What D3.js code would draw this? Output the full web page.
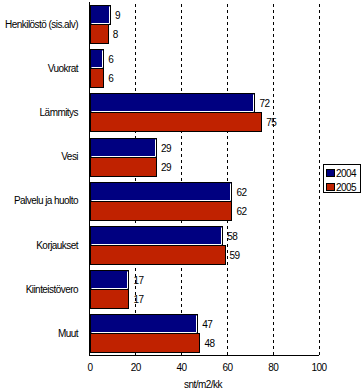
<!DOCTYPE html>
<html><head><meta charset="utf-8">
<script src="https://cdn.jsdelivr.net/npm/d3@7"></script>
<style>
body{margin:0;background:#fff;}
text{font-family:"Liberation Sans",Arial,sans-serif;font-size:10px;fill:#000;letter-spacing:-0.55px;}
</style></head>
<body><svg id="c" width="361" height="389"></svg>
<script>
const categories = ["Henkilöstö (sis.alv)","Vuokrat","Lämmitys","Vesi","Palvelu ja huolto","Korjaukset","Kiinteistövero","Muut"];
const seriesNames = ["2004","2005"];
const values2004 = [9,6,72,29,62,58,17,47];
const values2005 = [8,6,75,29,62,59,17,48];
const xTicks = [0,20,40,60,80,100];
const axisTitle = "snt/m2/kk";
const colors = ["#000080","#C02200"];

const svg = d3.select("#c");
const x = d3.scaleLinear().domain([0,100]).range([89.5,318.5]);
const y = d3.scaleBand().domain(categories).range([2,355.5]).paddingInner(0.14).paddingOuter(0.07);
const ys = d3.scaleBand().domain(seriesNames).range([0,y.bandwidth()]);

// gridlines
svg.append("g").selectAll("line").data(xTicks.filter(t=>t>0)).join("line")
  .attr("x1",d=>Math.round(x(d))+0.5).attr("x2",d=>Math.round(x(d))+0.5)
  .attr("y1",4).attr("y2",355)
  .attr("stroke","#000").attr("stroke-dasharray","3,3");

const data = categories.map((c,i)=>({c, v:[values2004[i],values2005[i]]}));
const g = svg.append("g");
data.forEach(d=>{
  d.v.forEach((v,k)=>{
    const s = seriesNames[k];
    const x0 = Math.round(x(0))+0.5, x1 = Math.round(x(v))+0.5;
    const y0 = Math.round(y(d.c)+ys(s))+0.5, h = Math.round(ys.bandwidth());
    g.append("rect").attr("x",x0).attr("y",y0).attr("width",x1-x0).attr("height",h)
      .attr("fill",colors[k]).attr("stroke","#000").attr("stroke-width",1);
    if(k===0){
      g.append("path").attr("d",`M${x0+1},${y0+h-1}H${x1-1}V${y0+1}`)
        .attr("fill","none").attr("stroke","#fff").attr("stroke-width",1);
    }
    g.append("text").attr("x",x(v)+5).attr("y",y0+h/2).attr("dy","0.35em").text(v);
  });
});

// axes
svg.append("line").attr("x1",89.5).attr("x2",89.5).attr("y1",2).attr("y2",355.5).attr("stroke","#000");
svg.append("line").attr("x1",89).attr("x2",319).attr("y1",355.5).attr("y2",355.5).attr("stroke","#000");
const xa = svg.append("g").attr("transform","translate(0,355.5)")
  .call(d3.axisBottom(x).tickValues(xTicks).tickSize(0).tickPadding(8).tickFormat(d3.format("d")));
xa.select(".domain").remove();
xa.selectAll("text").attr("font-size",null).attr("font-family",null).attr("fill","#000");

// category labels
svg.append("g").selectAll("text").data(categories).join("text")
  .attr("x",78).attr("y",d=>y(d)+y.bandwidth()/2).attr("dy","0.35em")
  .attr("text-anchor","end").text(d=>d);

svg.append("text").attr("x",203).attr("y",384).attr("dy","0.35em").attr("text-anchor","middle").text(axisTitle);

// legend
const lg = svg.append("g");
lg.append("rect").attr("x",323.5).attr("y",164.5).attr("width",37).attr("height",28).attr("fill","#fff").attr("stroke","#000");
seriesNames.forEach((s,k)=>{
  lg.append("rect").attr("x",326.5).attr("y",169.5+k*14).attr("width",8).attr("height",7).attr("fill",colors[k]).attr("stroke","#000");
  lg.append("text").attr("x",336).attr("y",173+k*14).attr("dy","0.35em").text(s);
});
</script></body></html>
